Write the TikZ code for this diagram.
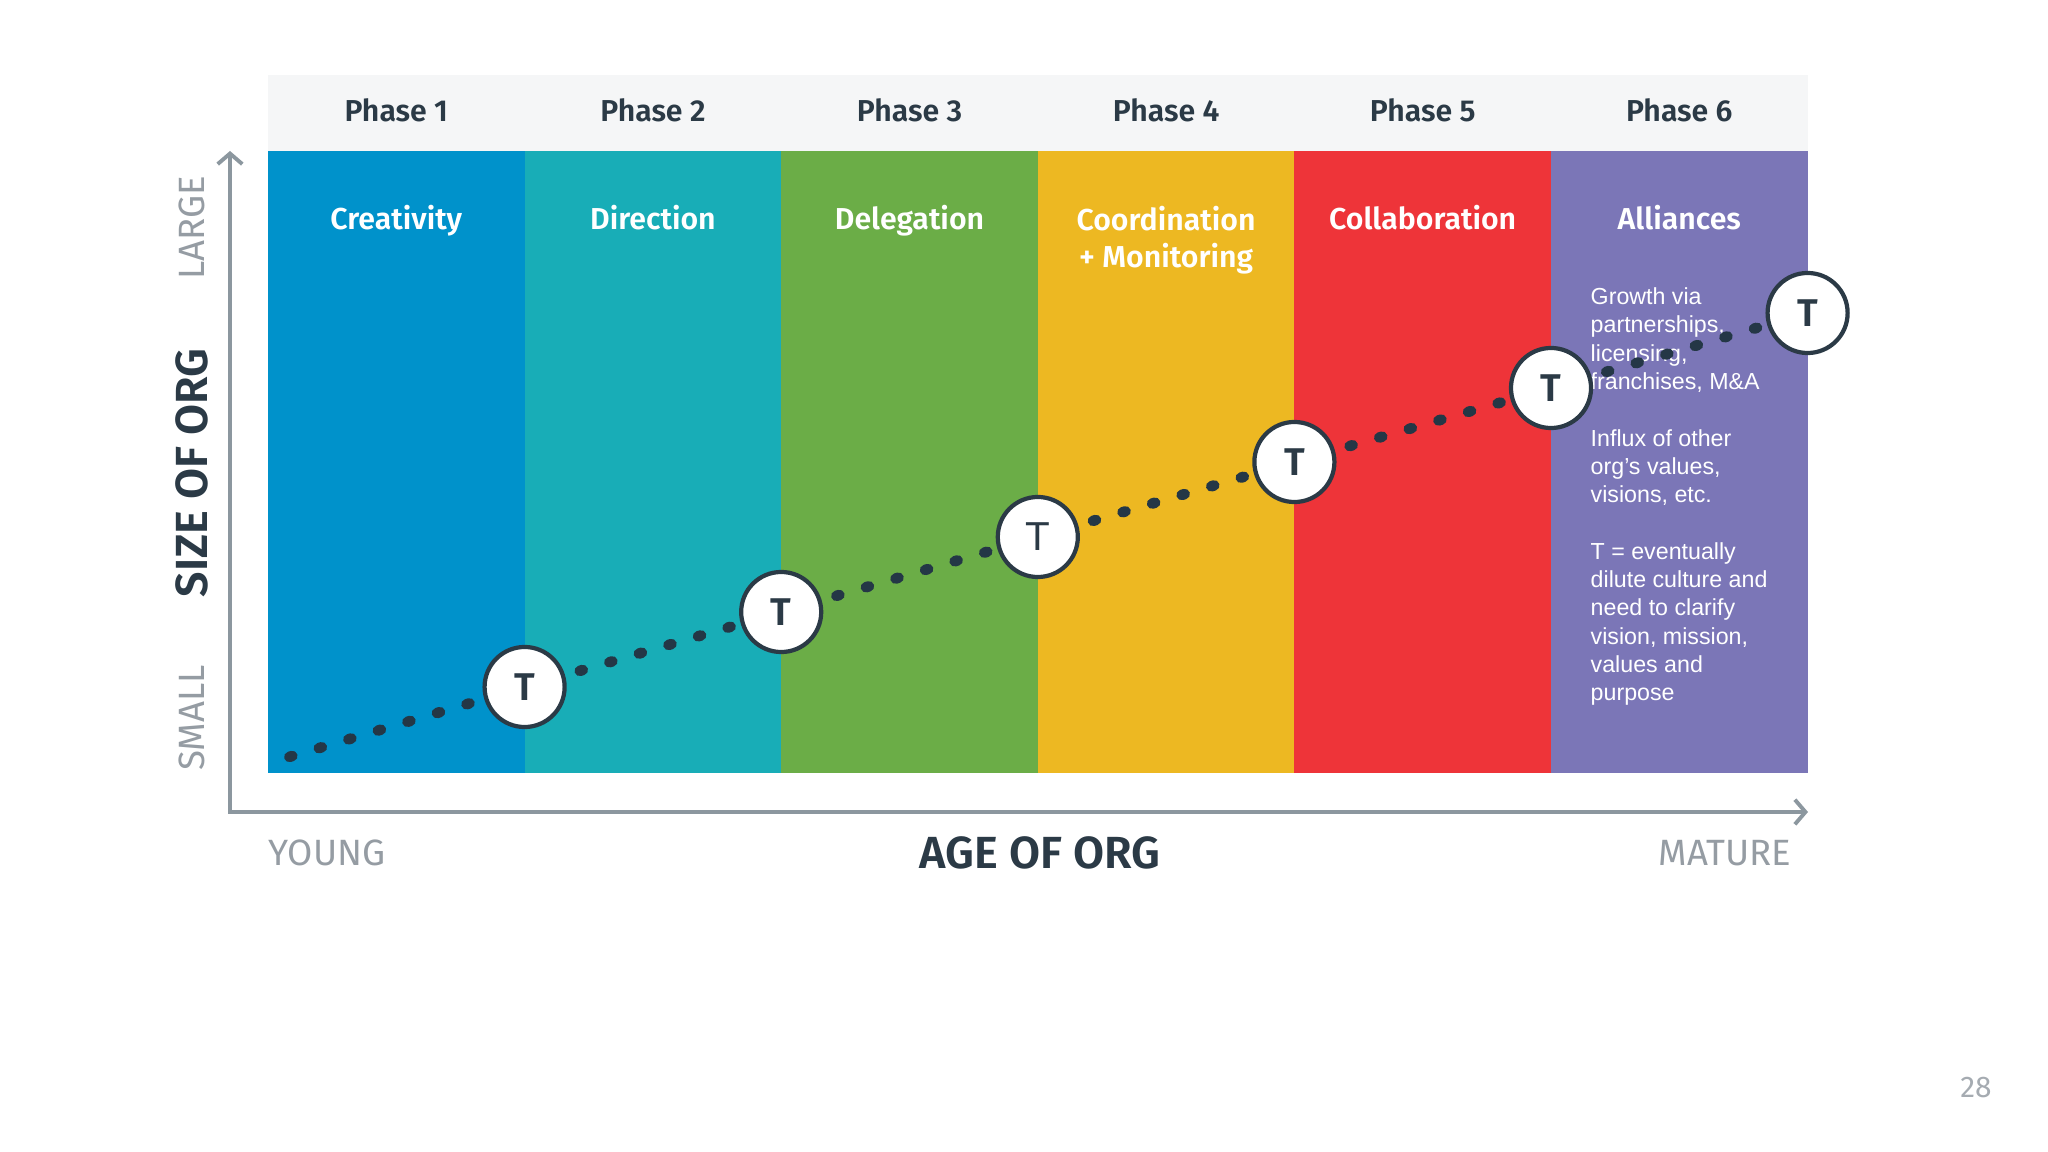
\documentclass[tikz,border=0pt]{standalone}
\usepackage{fontspec}
\setmainfont{Fira Sans}[BoldFont={Fira Sans SemiBold}]
\newfontfamily\arialfont{Liberation Sans}
\usetikzlibrary{arrows.meta,positioning}
\definecolor{phaseA}{HTML}{0092CB}
\definecolor{phaseB}{HTML}{18ADB7}
\definecolor{phaseC}{HTML}{6BAD47}
\definecolor{phaseD}{HTML}{EDB822}
\definecolor{phaseE}{HTML}{EE3439}
\definecolor{phaseF}{HTML}{7B76B7}
\definecolor{headbg}{HTML}{F5F6F7}
\definecolor{inkdark}{HTML}{2B3A46}
\definecolor{dotblue}{HTML}{243746}
\definecolor{axisgray}{HTML}{8C979F}
\definecolor{lblgray}{HTML}{959CA3}

\begin{document}
\begin{tikzpicture}[x=0.01cm, y=-0.01cm, >={Straight Barb[length=3pt,width=7pt,line width=1.1pt]},
  phaselbl/.style={font=\fontsize{8.6}{10}\selectfont\bfseries, text=inkdark},
  title/.style={font=\fontsize{8.6}{10.8}\selectfont\bfseries, text=white, align=center, anchor=base},
  tnode/.style={circle, draw=inkdark, line width=1.2pt, fill=white, minimum size=0.8cm, inner sep=0pt, font=\fontsize{11}{11}\selectfont\bfseries, text=inkdark},
  dotline/.style={draw=dotblue, line width=3pt, line cap=round, dash pattern=on 0.9pt off 7.86pt, dash phase=4.4pt},
  axis/.style={draw=axisgray, line width=1.1pt},
  axlbl/.style={font=\fontsize{10.4}{12}\selectfont, text=lblgray, inner sep=0pt},
  axtitle/.style={font=\fontsize{12.8}{14}\selectfont\bfseries, text=inkdark, inner sep=0pt}]
  \useasboundingbox (0,0) rectangle (2048,1152);
  \fill[headbg] (268,75) rectangle (1807.6,151.5);
  \fill[phaseA] (268,151.5) rectangle (524.6,773);
  \fill[phaseB] (524.6,151.5) rectangle (781.2,773);
  \fill[phaseC] (781.2,151.5) rectangle (1037.8,773);
  \fill[phaseD] (1037.8,151.5) rectangle (1294.4,773);
  \fill[phaseE] (1294.4,151.5) rectangle (1551,773);
  \fill[phaseF] (1551,151.5) rectangle (1807.6,773);

  \node[phaselbl] (ph1) at (396.3,110) {Phase 1};
  \node[phaselbl] (ph2) at (652.9,110) {Phase 2};
  \node[phaselbl] (ph3) at (909.5,110) {Phase 3};
  \node[phaselbl] (ph4) at (1166.1,110) {Phase 4};
  \node[phaselbl] (ph5) at (1422.7,110) {Phase 5};
  \node[phaselbl] (ph6) at (1679.3,110) {Phase 6};

  \node[title] (creativity) at (396.3,230) {Creativity};
  \node[title] (direction) at (652.9,230) {Direction};
  \node[title] (delegation) at (909.5,230) {Delegation};
  \node[title] (coordination) at (1166.1,268) {Coordination\\+ Monitoring};
  \node[title] (collaboration) at (1422.7,230) {Collaboration};
  \node[title] (alliances) at (1679.3,230) {Alliances};

  \node[anchor=north west, inner sep=0pt, align=left, text=white, font=\arialfont\fontsize{6.6}{8.05}\selectfont] (notes) at (1590,287)
    {Growth via\\partnerships,\\licensing,\\franchises, M\&A\\[8.05pt]Influx of other\\org’s values,\\visions, etc.\\[8.05pt]T = eventually\\dilute culture and\\need to clarify\\vision, mission,\\values and\\purpose};

  \coordinate (start) at (289,757);
  \node[tnode] (t1) at (524.6,687) {T};
  \node[tnode] (t2) at (781.2,612) {T};
  \node[tnode, font=\arialfont\fontsize{11.5}{11.5}\selectfont] (t3) at (1037.8,537) {T};
  \node[tnode] (t4) at (1294.4,462) {T};
  \node[tnode] (t5) at (1551,388) {T};
  \node[tnode] (t6) at (1807.6,313) {T};
  \draw[dotline] (t1) -- (start) (t1) -- (t2) (t2) -- (t3) (t3) -- (t4) (t4) -- (t5) (t5) -- (t6);

  \coordinate (origin) at (230,812);
  \coordinate (ytop) at (230,151);
  \coordinate (xend) at (1808,812);
  \draw[axis,<->] (ytop) -- (origin) -- (xend);

  \node[axlbl, rotate=90] (large) at (192,228) {LARGE};
  \node[axtitle, rotate=90] (size) at (192,473) {SIZE OF ORG};
  \node[axlbl, rotate=90] (small) at (192,718) {SMALL};
  \node[axlbl, anchor=west] (young) at (268,853) {YOUNG};
  \node[axtitle] (age) at (1040,853) {AGE OF ORG};
  \node[axlbl, anchor=east] (mature) at (1792,853) {MATURE};
  \node[font=\fontsize{8.5}{10}\selectfont, text=lblgray!85] (page) at (1976,1088) {28};
\end{tikzpicture}
\end{document}
